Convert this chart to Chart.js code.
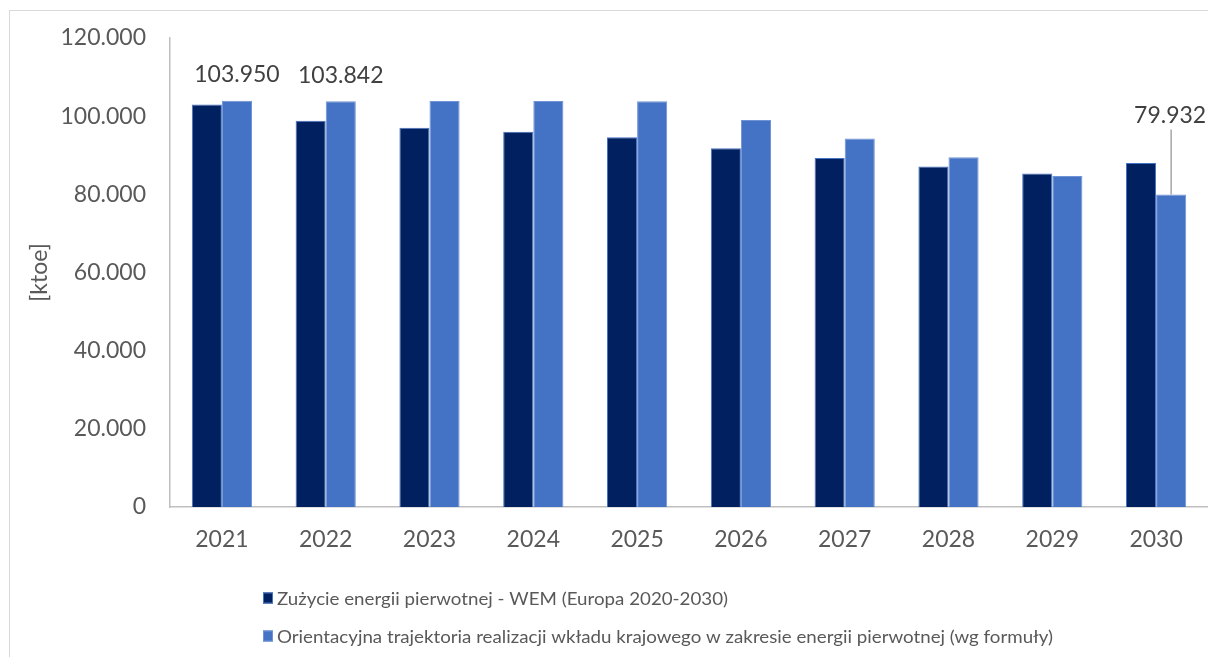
<!DOCTYPE html>
<html>
<head>
<meta charset="utf-8">
<script src="https://cdn.jsdelivr.net/npm/chart.js@4/dist/chart.umd.min.js"></script>
<style>
  html, body { margin: 0; padding: 0; background: #fff; overflow: hidden; }
  #wrap { position: absolute; left: 0; top: 0; width: 1208px; height: 657px; }
  #frame { position: absolute; left: 9px; top: 10px; width: 1400px; height: 900px; border: 1px solid #D9D9D9; pointer-events: none; }
</style>
</head>
<body>
<div id="frame"></div>
<div id="wrap"><canvas id="c" width="1208" height="657"></canvas></div>
<script>
const years = ['2021','2022','2023','2024','2025','2026','2027','2028','2029','2030'];
const wemValues = [103000, 98850, 97050, 96000, 94600, 91800, 89300, 87100, 85300, 88000];
const trajectoryValues = [103950, 103842, 103850, 103850, 103800, 99000, 94300, 89500, 84700, 79932];
const seriesNames = [
  'Zużycie energii pierwotnej - WEM (Europa 2020-2030)',
  'Orientacyjna trajektoria realizacji wkładu krajowego w zakresie energii pierwotnej (wg formuły)'
];
const labeledIndices = [0, 1, 9];
const yTitle = '[ktoe]';
const yMax = 120000;
const yStep = 20000;

const FONT = 'Lato, "Open Sans", sans-serif';
const TXT = '#595959';

function fmt(n) {
  return String(Math.round(n)).replace(/\B(?=(\d{3})+(?!\d))/g, '.');
}

const labelPlugin = {
  id: 'valueLabels',
  afterDatasetsDraw(chart) {
    const ctx = chart.ctx;
    const meta = chart.getDatasetMeta(1);
    ctx.save();
    ctx.font = '23px ' + FONT;
    ctx.fillStyle = '#404040';
    ctx.textAlign = 'center';
    ctx.textBaseline = 'middle';
    labeledIndices.forEach(i => {
      const el = meta.data[i];
      const v = chart.data.datasets[1].data[i];
      if (i === years.length - 1) {
        const ly = el.y - 79;
        ctx.strokeStyle = '#A6A6A6';
        ctx.lineWidth = 1.5;
        ctx.beginPath();
        ctx.moveTo(el.x, ly + 14);
        ctx.lineTo(el.x, el.y);
        ctx.stroke();
        ctx.fillText(fmt(v), el.x - 1, ly);
      } else {
        ctx.fillText(fmt(v), el.x, el.y - 26);
      }
    });
    ctx.restore();
  }
};

const legendPlugin = {
  id: 'customLegend',
  afterDraw(chart) {
    const ctx = chart.ctx;
    const rows = [598, 636];
    chart.data.datasets.forEach((ds, i) => {
      const y = rows[i];
      ctx.save();
      ctx.fillStyle = ds.backgroundColor;
      ctx.fillRect(263, y - 5.5, 10, 11);
      ctx.strokeStyle = ds.borderColor;
      ctx.lineWidth = 1;
      ctx.strokeRect(263.5, y - 5, 9, 10);
      ctx.font = '18px ' + FONT;
      ctx.textBaseline = 'middle';
      ctx.textAlign = 'left';
      ctx.fillStyle = TXT;
      ctx.translate(277, y + 1);
      ctx.scale(1.04, 1);
      ctx.fillText(ds.label, 0, 0);
      ctx.restore();
    });
  }
};

new Chart(document.getElementById('c'), {
  type: 'bar',
  data: {
    labels: years,
    datasets: [
      {
        label: seriesNames[0],
        data: wemValues,
        backgroundColor: '#002060',
        borderColor: '#4472C4',
        borderWidth: 1,
        barPercentage: 1,
        categoryPercentage: 0.58
      },
      {
        label: seriesNames[1],
        data: trajectoryValues,
        backgroundColor: '#4472C4',
        borderColor: '#6F93D6',
        borderWidth: 1,
        barPercentage: 1,
        categoryPercentage: 0.58
      }
    ]
  },
  options: {
    responsive: false,
    animation: false,
    devicePixelRatio: 1,
    layout: { padding: { top: 38, right: 0, bottom: 105, left: 0 } },
    plugins: {
      legend: { display: false },
      tooltip: { enabled: false }
    },
    scales: {
      x: {
        grid: { display: false, drawTicks: false },
        border: { display: true, color: '#BFBFBF', width: 1.5 },
        ticks: { color: TXT, font: { family: FONT, size: 23 }, padding: 19 },
        afterFit(s) { s.height = 45; }
      },
      y: {
        min: 0,
        max: yMax,
        grid: { display: false, drawTicks: false },
        border: { display: true, color: '#BFBFBF', width: 1.5 },
        ticks: {
          stepSize: yStep,
          color: TXT,
          font: { family: FONT, size: 23 },
          padding: 24,
          callback: v => fmt(v)
        },
        title: {
          display: true,
          text: yTitle,
          color: TXT,
          font: { family: FONT, size: 23 },
          padding: { top: 26, bottom: 0 }
        },
        afterFit(s) { s.width = 170; }
      }
    }
  },
  plugins: [labelPlugin, legendPlugin]
});
</script>
</body>
</html>
